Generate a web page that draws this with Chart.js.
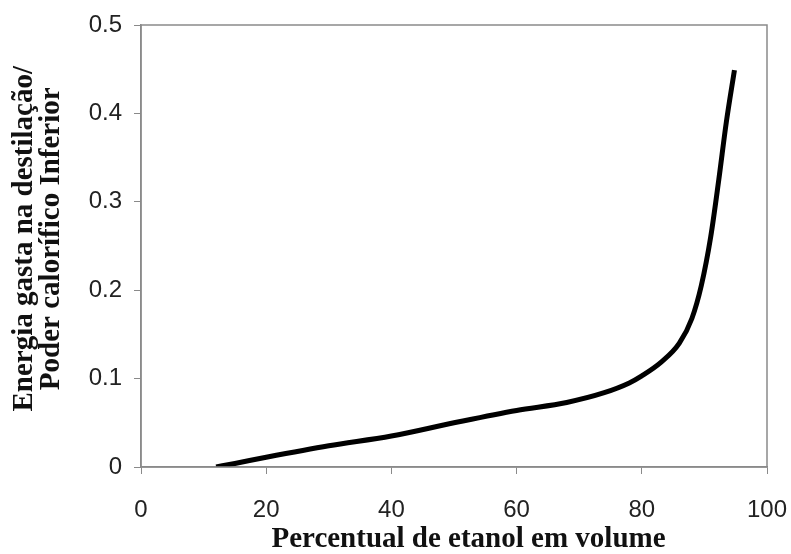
<!DOCTYPE html>
<html>
<head>
<meta charset="utf-8">
<script src="https://cdn.jsdelivr.net/npm/chart.js@4.4.1/dist/chart.umd.min.js"></script>
<style>
  html, body { margin: 0; padding: 0; background: #fff; }
  #wrap { width: 791px; height: 554px; }
</style>
</head>
<body>
<div id="wrap"><canvas id="grafico" width="791" height="554"></canvas></div>
<script>
// valores
const etanol = [12, 15, 20, 30, 40, 50, 60, 68, 74, 78, 80, 83, 86, 88, 89.5, 91, 92.3, 93.5, 94.8];
const energia = [0, 0.004, 0.011, 0.024, 0.035, 0.05, 0.064, 0.073, 0.084, 0.095, 0.103, 0.118, 0.14, 0.168, 0.205, 0.26, 0.325, 0.39, 0.449];
const tituloX = '    Percentual de etanol em volume';
const tituloY = ['  Energia gasta na destilação/', '  Poder calorífico Inferior'];

const cinza = '#8a8a8a';

const pontos = etanol.map((v, i) => ({ x: v, y: energia[i] }));

// moldura em volta da área do gráfico
const moldura = {
  id: 'moldura',
  afterDraw(chart) {
    const { ctx, chartArea: a } = chart;
    ctx.save();
    ctx.strokeStyle = cinza;
    ctx.lineWidth = 1.5;
    ctx.strokeRect(a.left, a.top, a.right - a.left, a.bottom - a.top);
    ctx.restore();
  }
};

const ctx = document.getElementById('grafico').getContext('2d');

let grafico = new Chart(ctx, {
  type: 'line',
  data: {
    datasets: [{
      data: pontos,
      borderColor: '#000',
      borderWidth: 5,
      borderCapStyle: 'butt',
      pointRadius: 0,
      cubicInterpolationMode: 'monotone',
      fill: false
    }]
  },
  options: {
    responsive: false,
    animation: false,
    layout: { padding: { top: 25, right: 24, left: 0, bottom: 0 } },
    plugins: {
      legend: { display: false },
      tooltip: { enabled: false }
    },
    scales: {
      x: {
        type: 'linear',
        min: 0,
        max: 100,
        afterFit(scale) {
          scale.height = 87;
          scale.paddingLeft = 0;
          scale.paddingRight = 0;
        },
        ticks: {
          stepSize: 20,
          color: '#222',
          padding: 22,
          font: { family: 'Liberation Sans', size: 24 }
        },
        grid: { drawOnChartArea: false, color: cinza, tickLength: 7 },
        border: { color: cinza, width: 1.5 },
        title: {
          display: true,
          text: tituloX,
          color: '#111',
          padding: { top: 0, bottom: 0 },
          font: { family: 'Liberation Serif', size: 29, weight: 'bold', lineHeight: 1 }
        }
      },
      y: {
        min: 0,
        max: 0.5,
        afterFit(scale) {
          scale.width = 141;
          scale.paddingTop = 0;
          scale.paddingBottom = 0;
        },
        ticks: {
          stepSize: 0.1,
          color: '#222',
          padding: 12,
          font: { family: 'Liberation Sans', size: 24 }
        },
        grid: { drawOnChartArea: false, color: cinza, tickLength: 7 },
        border: { color: cinza, width: 1.5 },
        title: {
          display: true,
          text: tituloY,
          color: '#111',
          padding: { top: 11, bottom: 0 },
          font: { family: 'Liberation Serif', size: 29, weight: 'bold', lineHeight: '27px' }
        }
      }
    }
  },
  plugins: [moldura]
});
</script>
</body>
</html>
